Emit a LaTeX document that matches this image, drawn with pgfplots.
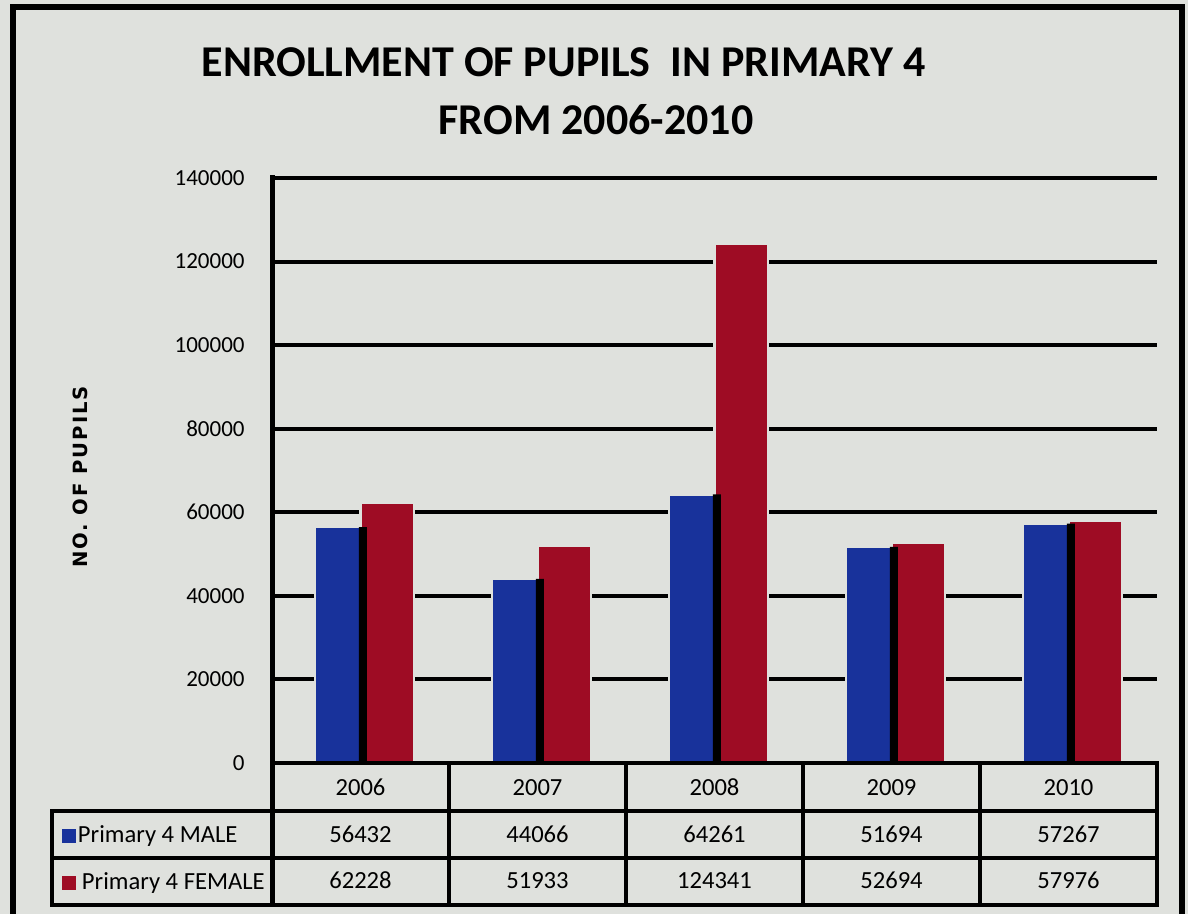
\documentclass[border=0pt]{standalone}
\usepackage{pgfplots}
\pgfplotsset{compat=1.18}
\usepackage{fontspec}
\setmainfont{Carlito}
\newfontfamily\ylabfont[LetterSpace=10]{DejaVu Sans}
\definecolor{bg}{RGB}{223,225,221}
\definecolor{mblue}{RGB}{24,50,155}
\definecolor{fred}{RGB}{158,12,36}
\begin{document}
\begin{tikzpicture}
\useasboundingbox (0,0) rectangle (594pt,457pt);
\fill[bg] (0,0) rectangle (594pt,457pt);
\draw[line width=3pt] (6.5pt,-2pt) -- (6.5pt,453.5pt) -- (591.2pt,453.5pt) -- (591.2pt,-2pt);
\begin{axis}[
  at={(136pt,75.5pt)}, anchor=south west,
  scale only axis, width=442.5pt, height=292.5pt,
  xmin=0, xmax=5, ymin=0, ymax=140000,
  clip=false,
  axis x line*=bottom, axis y line*=left,
  axis line style={draw=none},
  ytick={0,20000,...,140000}, xtick=\empty,
  scaled y ticks=false,
  yticklabel style={font=\fontsize{11.5}{12}\selectfont, anchor=east, inner sep=0pt, xshift=-13.5pt,
    /pgf/number format/fixed, /pgf/number format/1000 sep={}, /pgf/number format/assume math mode=true},
  major tick length=0pt,
  ymajorgrids, grid style={black, line width=2pt},
  ybar,
  legend style={at={(-0.2373,-0.1043)}, anchor=north west, draw=none, fill=none,
    inner sep=0pt, outer sep=0pt, row sep=11.9pt, column sep=1pt,
    nodes={inner sep=0pt, text height=9pt, text depth=2.6pt, font=\fontsize{12.3}{14}\selectfont}},
  legend cell align=left,
  legend image code/.code={\fill[#1,draw=none] (0pt,-3.5pt) rectangle (7pt,3.5pt);},
]
\addplot[fill=mblue, draw=bg, line width=1.2pt, bar width=24.2pt, bar shift=-10.75pt]
  coordinates {(0.5,56432) (1.5,44066) (2.5,64261) (3.5,51694) (4.5,57267)};
\addlegendentry{Primary 4 MALE}
\addplot[fill=fred, draw=bg, line width=1.2pt, bar width=26.7pt, bar shift=13.25pt]
  coordinates {(0.5,62228) (1.5,51933) (2.5,124341) (3.5,52694) (4.5,57976)};
\addlegendentry{\hspace{2pt}Primary 4 FEMALE}
\addplot[fill=black, draw=none, bar width=4pt, bar shift=1.2pt, forget plot]
  coordinates {(0.5,56432) (1.5,44066) (2.5,64261) (3.5,51694) (4.5,57267)};
% table lines
\draw[line width=2pt, line cap=rect] (axis cs:0,0) -- (axis cs:5,0);
\draw[line width=2pt, line cap=rect] ([xshift=-110pt,yshift=-24pt]axis cs:0,0) -- ([yshift=-24pt]axis cs:5,0);
\draw[line width=2pt, line cap=rect] ([xshift=-110pt,yshift=-47.5pt]axis cs:0,0) -- ([yshift=-47.5pt]axis cs:5,0);
\draw[line width=2pt, line cap=rect] ([xshift=-110pt,yshift=-71pt]axis cs:0,0) -- ([yshift=-71pt]axis cs:5,0);
\draw[line width=2.5pt, line cap=rect] (axis cs:0,140000) -- ([yshift=-71pt]axis cs:0,0);
\draw[line width=2pt, line cap=rect] ([xshift=-110pt,yshift=-24pt]axis cs:0,0) -- ([xshift=-110pt,yshift=-71pt]axis cs:0,0);
\draw[line width=2pt, line cap=rect] (axis cs:1,0) -- ([yshift=-71pt]axis cs:1,0);
\draw[line width=2pt, line cap=rect] (axis cs:2,0) -- ([yshift=-71pt]axis cs:2,0);
\draw[line width=2pt, line cap=rect] (axis cs:3,0) -- ([yshift=-71pt]axis cs:3,0);
\draw[line width=2pt, line cap=rect] (axis cs:4,0) -- ([yshift=-71pt]axis cs:4,0);
\draw[line width=2pt, line cap=rect] (axis cs:5,0) -- ([yshift=-71pt]axis cs:5,0);
% table text
\node[anchor=base, font=\fontsize{12.3}{14}\selectfont] at ([yshift=-16.46pt]axis cs:0.5,0) {2006};
\node[anchor=base, font=\fontsize{12.3}{14}\selectfont] at ([yshift=-16.46pt]axis cs:1.5,0) {2007};
\node[anchor=base, font=\fontsize{12.3}{14}\selectfont] at ([yshift=-16.46pt]axis cs:2.5,0) {2008};
\node[anchor=base, font=\fontsize{12.3}{14}\selectfont] at ([yshift=-16.46pt]axis cs:3.5,0) {2009};
\node[anchor=base, font=\fontsize{12.3}{14}\selectfont] at ([yshift=-16.46pt]axis cs:4.5,0) {2010};
\node[anchor=base, font=\fontsize{12.3}{14}\selectfont] at ([yshift=-39.96pt]axis cs:0.5,0) {56432};
\node[anchor=base, font=\fontsize{12.3}{14}\selectfont] at ([yshift=-39.96pt]axis cs:1.5,0) {44066};
\node[anchor=base, font=\fontsize{12.3}{14}\selectfont] at ([yshift=-39.96pt]axis cs:2.5,0) {64261};
\node[anchor=base, font=\fontsize{12.3}{14}\selectfont] at ([yshift=-39.96pt]axis cs:3.5,0) {51694};
\node[anchor=base, font=\fontsize{12.3}{14}\selectfont] at ([yshift=-39.96pt]axis cs:4.5,0) {57267};
\node[anchor=base, font=\fontsize{12.3}{14}\selectfont] at ([yshift=-62.96pt]axis cs:0.5,0) {62228};
\node[anchor=base, font=\fontsize{12.3}{14}\selectfont] at ([yshift=-62.96pt]axis cs:1.5,0) {51933};
\node[anchor=base, font=\fontsize{12.3}{14}\selectfont] at ([yshift=-62.96pt]axis cs:2.5,0) {124341};
\node[anchor=base, font=\fontsize{12.3}{14}\selectfont] at ([yshift=-62.96pt]axis cs:3.5,0) {52694};
\node[anchor=base, font=\fontsize{12.3}{14}\selectfont] at ([yshift=-62.96pt]axis cs:4.5,0) {57976};
\end{axis}
\node[anchor=base, font=\bfseries\fontsize{22}{24}\selectfont] at (281.75pt,418.67pt) {ENROLLMENT OF PUPILS\ \ IN PRIMARY 4};
\node[anchor=base, font=\bfseries\fontsize{22}{24}\selectfont] at (298pt,389.9pt) {FROM 2006-2010};
\node[rotate=90, font=\ylabfont\bfseries\fontsize{9.8}{10}\selectfont] at (40pt,218.5pt) {NO. OF PUPILS};
\end{tikzpicture}
\end{document}
